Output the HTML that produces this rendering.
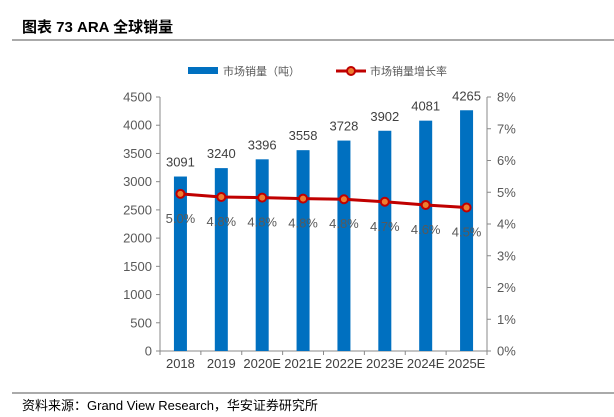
<!DOCTYPE html>
<html><head><meta charset="utf-8"><style>
body{margin:0;background:#fff;font-family:"Liberation Sans","Noto Sans CJK SC",sans-serif;}
#wrap{position:relative;width:614px;height:417px;overflow:hidden;}
</style></head><body>
<div id="wrap">
<svg id="svg" width="614" height="417" xmlns="http://www.w3.org/2000/svg" font-family="Liberation Sans, Noto Sans CJK SC, sans-serif">
<text x="22" y="32" font-size="15" font-weight="bold" fill="#000">图表  73 ARA 全球销量</text>
<line x1="12" y1="40" x2="614" y2="40" stroke="#555" stroke-width="1"/>
<g>
<rect x="188" y="67" width="30" height="7" fill="#0070c0"/>
<text x="223" y="75" font-size="11" fill="#595959">市场销量（吨）</text>
<line x1="280" y1="71" x2="310" y2="71" stroke="#c00000" stroke-width="3" transform="translate(56,0)"/>
<circle cx="351" cy="71" r="4" fill="#ed7d31" stroke="#c00000" stroke-width="2"/>
<text x="370" y="75" font-size="11" fill="#595959">市场销量增长率</text>
</g>
<line x1="12" y1="393" x2="614" y2="393" stroke="#555" stroke-width="1"/>
<text x="22" y="410" font-size="13" fill="#000">资料来源：Grand View Research，华安证券研究所</text>
<g id="plot"></g>
</svg>
</div>
<script>
const categories=["2018","2019","2020E","2021E","2022E","2023E","2024E","2025E"];
const sales=[3091,3240,3396,3558,3728,3902,4081,4265];
const growth=[4.95,4.85,4.83,4.80,4.78,4.70,4.60,4.52];
const leftTicks=[0,500,1000,1500,2000,2500,3000,3500,4000,4500];
const rightTicks=[0,1,2,3,4,5,6,7,8];
const X0=160,X1=487,Y0=351,Y1=97;
const ns="http://www.w3.org/2000/svg";
const plot=document.getElementById('plot');
function yL(v){return Y0-(v/4500)*(Y0-Y1);}
function yR(v){return Y0-(v/8)*(Y0-Y1);}
const bw=(X1-X0)/categories.length;
function xC(i){return X0+bw*(i+0.5);}
function mk(t,a){const e=document.createElementNS(ns,t);for(const k in a)e.setAttribute(k,a[k]);plot.appendChild(e);return e;}
let e;
e=mk('line',{x1:X0,y1:Y1,x2:X0,y2:Y0,stroke:'#888'});


e=mk('line',{x1:X1,y1:Y1,x2:X1,y2:Y0,stroke:'#888'});


e=mk('line',{x1:X0,y1:Y0,x2:X1,y2:Y0,stroke:'#888'});


leftTicks.forEach(v=>{const y=yL(v);
 e=mk('line',{x1:X0-4,y1:y,x2:X0,y2:y,stroke:'#888'});
 
 
 e=mk('text',{x:X0-8,y:y+4.5,'font-size':13,fill:'#595959','text-anchor':'end'});e.textContent=v;
 
 });
rightTicks.forEach(v=>{const y=yR(v);
 e=mk('line',{x1:X1,y1:y,x2:X1+4,y2:y,stroke:'#888'});
 
 
 e=mk('text',{x:X1+10,y:y+4.5,'font-size':13,fill:'#595959'});e.textContent=v+'%';
 
 });
for(let i=0;i<=categories.length;i++){const x=X0+bw*i;
 e=mk('line',{x1:x,y1:Y0,x2:x,y2:Y0+4,stroke:'#888'});
 
 }
categories.forEach((c,i)=>{
 const t=yL(sales[i]);
 e=mk('rect',{x:xC(i)-6.5,y:t,width:13,height:Y0-t,fill:'#0070c0'});
 
 
 e=mk('text',{x:xC(i),y:t-10,'font-size':13,fill:'#404040','text-anchor':'middle'});e.textContent=sales[i];
 
 
 e=mk('text',{x:xC(i),y:Y0+17,'font-size':13,fill:'#404040','text-anchor':'middle'});e.textContent=c;
 
 
});
e=mk('polyline',{points:growth.map((g,i)=>xC(i)+','+yR(g)).join(' '),fill:'none',stroke:'#c00000','stroke-width':3});


growth.forEach((g,i)=>{
 e=mk('circle',{cx:xC(i),cy:yR(g),r:4,fill:'#ed7d31',stroke:'#c00000','stroke-width':2});
 
 
 e=mk('text',{x:xC(i),y:yR(g)+29,'font-size':13,fill:'#595959','text-anchor':'middle'});e.textContent=g.toFixed(1)+'%';
 
 
});
</script>
</body></html>
